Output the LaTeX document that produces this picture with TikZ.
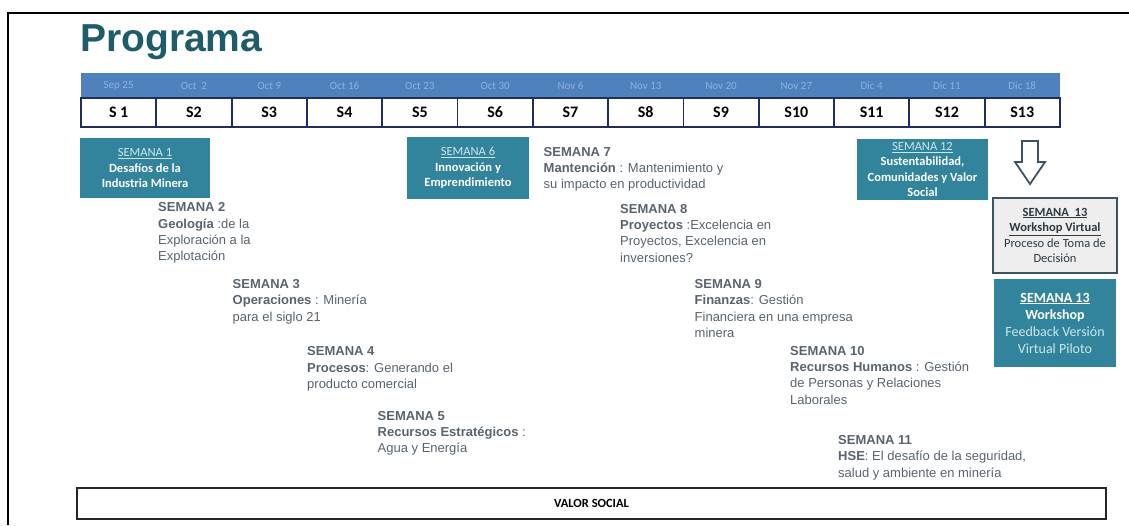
\documentclass[tikz,border=0pt]{standalone}
\usepackage{fontspec}
\setmainfont{Liberation Sans}
\newfontfamily\carlito{Carlito}
\definecolor{titlec}{RGB}{31,92,106}
\definecolor{barblue}{RGB}{79,129,189}
\definecolor{datec}{RGB}{143,177,222}
\definecolor{navy}{RGB}{31,46,94}
\definecolor{tealc}{RGB}{49,132,155}
\definecolor{lighthead}{RGB}{205,230,238}
\definecolor{bodyc}{RGB}{88,99,110}
\definecolor{graybox}{RGB}{238,238,238}
\definecolor{grayborder}{RGB}{60,84,98}
\definecolor{darkt}{RGB}{45,58,68}
\tikzset{
  txt/.style={anchor=north west, inner sep=0pt, align=left, text=bodyc,
    font=\fontsize{13}{16.3}\selectfont},
  tbox/.style={fill=tealc, inner sep=0pt, align=center, text=white,
    font=\carlito\fontsize{12.5}{15.5}\selectfont},
  cell/.style={draw=navy, line width=1.8pt, fill=white, minimum width=75.3pt,
    minimum height=29pt, inner sep=0pt, font=\carlito\bfseries\fontsize{16}{18}\selectfont},
  datel/.style={inner sep=0pt, text=datec, font=\carlito\fontsize{11}{12}\selectfont},
}
\begin{document}
\begin{tikzpicture}[x=1pt,y=-1pt]
\useasboundingbox (0,0) rectangle (1129,525);
% frame
\draw[line width=2pt] (1129,13) -- (8,13) -- (8,525);
% title
\node[anchor=base west, inner sep=0pt, font=\bfseries\fontsize{39}{41}\selectfont, text=titlec] (title) at (80,51) {Programa};
% date bar
\fill[barblue] (81,73) rectangle (1060,98);
\foreach \i/\d/\s in {0/Sep 25/S 1,1/Oct\ \ 2/S2,2/Oct 9/S3,3/Oct 16/S4,4/Oct 23/S5,5/Oct 30/S6,6/Nov 6/S7,7/Nov 13/S8,8/Nov 20/S9,9/Nov 27/S10,10/Dic 4/S11,11/Dic 11/S12,12/Dic 18/S13}{
  \node[cell] (w\i) at ({81+\i*75.3+37.65},112.5) {\s};
  \node[datel] (d\i) at ({81+\i*75.3+37.65},85.5) {\d};
}
% teal boxes
\node[tbox, minimum width=130pt, minimum height=60pt] (b1) at (145,168)
  {\textcolor{lighthead}{\underline{SEMANA 1}}\\\textbf{Desafíos de la}\\\textbf{Industria Minera}};
\node[tbox, minimum width=122pt, minimum height=62pt] (b6) at (468,168)
  {\textcolor{lighthead}{\underline{SEMANA 6}}\\\textbf{Innovación y}\\\textbf{Emprendimiento}};
\node[tbox, minimum width=131pt, minimum height=61pt] (b12) at (922.5,169.5)
  {\textcolor{lighthead}{\underline{SEMANA 12}}\\\textbf{Sustentabilidad,}\\\textbf{Comunidades y Valor}\\\textbf{Social}};
% arrow
\draw[draw=grayborder, line width=1.8pt, fill=white, line join=miter]
  (1022,141) -- (1038,141) -- (1038,162) -- (1045,162) -- (1030,184) -- (1015,162) -- (1022,162) -- cycle;
% workshop boxes
\node[fill=graybox, draw=grayborder, line width=2pt, minimum width=124pt, minimum height=75pt,
  inner sep=0pt, align=center, text=darkt, font=\carlito\fontsize{12.5}{15.6}\selectfont] (b13a) at (1055,235.5)
  {\textbf{\underline{SEMANA\ \ 13}}\\\textbf{\underline{Workshop Virtual}}\\Proceso de Toma de\\Decisión};
\node[tbox, minimum width=122pt, minimum height=88pt, font=\carlito\fontsize{14}{17}\selectfont] (b13b) at (1055,323)
  {\textbf{\underline{SEMANA 13}}\\\textbf{Workshop}\\\textcolor{lighthead}{Feedback Versión}\\\textcolor{lighthead}{Virtual Piloto}};
% text blocks
\node[txt] (s2) at (158,202.6) {\textbf{SEMANA 2}\\\textbf{Geología} :de la\\Exploración a la\\Explotación};
\node[txt] (s3) at (232.5,279.3) {\textbf{SEMANA 3}\\\textbf{Operaciones} : Minería\\para el siglo 21};
\node[txt] (s4) at (307,346.6) {\textbf{SEMANA 4}\\\textbf{Procesos}: Generando el\\producto comercial};
\node[txt] (s5) at (377.5,411) {\textbf{SEMANA 5}\\\textbf{Recursos Estratégicos} :\\Agua y Energía};
\node[txt] (s7) at (543.5,147) {\textbf{SEMANA 7}\\\textbf{Mantención} : Mantenimiento y\\su impacto en productividad};
\node[txt] (s8) at (620,204) {\textbf{SEMANA 8}\\\textbf{Proyectos} :Excelencia en\\Proyectos, Excelencia en\\inversiones?};
\node[txt] (s9) at (694.5,279.3) {\textbf{SEMANA 9}\\\textbf{Finanzas}: Gestión\\Financiera en una empresa\\minera};
\node[txt] (s10) at (790,346) {\textbf{SEMANA 10}\\\textbf{Recursos Humanos} : Gestión\\de Personas y Relaciones\\Laborales};
\node[txt] (s11) at (838,435.3) {\textbf{SEMANA 11}\\\textbf{HSE}: El desafío de la seguridad,\\salud y ambiente en minería};
% valor social
\node[draw=black!85, line width=2.2pt, minimum width=1029pt, minimum height=31pt, inner sep=0pt,
  font=\carlito\bfseries\fontsize{12.5}{14}\selectfont] (vs) at (591.5,503.5) {VALOR SOCIAL};
\end{tikzpicture}
\end{document}
